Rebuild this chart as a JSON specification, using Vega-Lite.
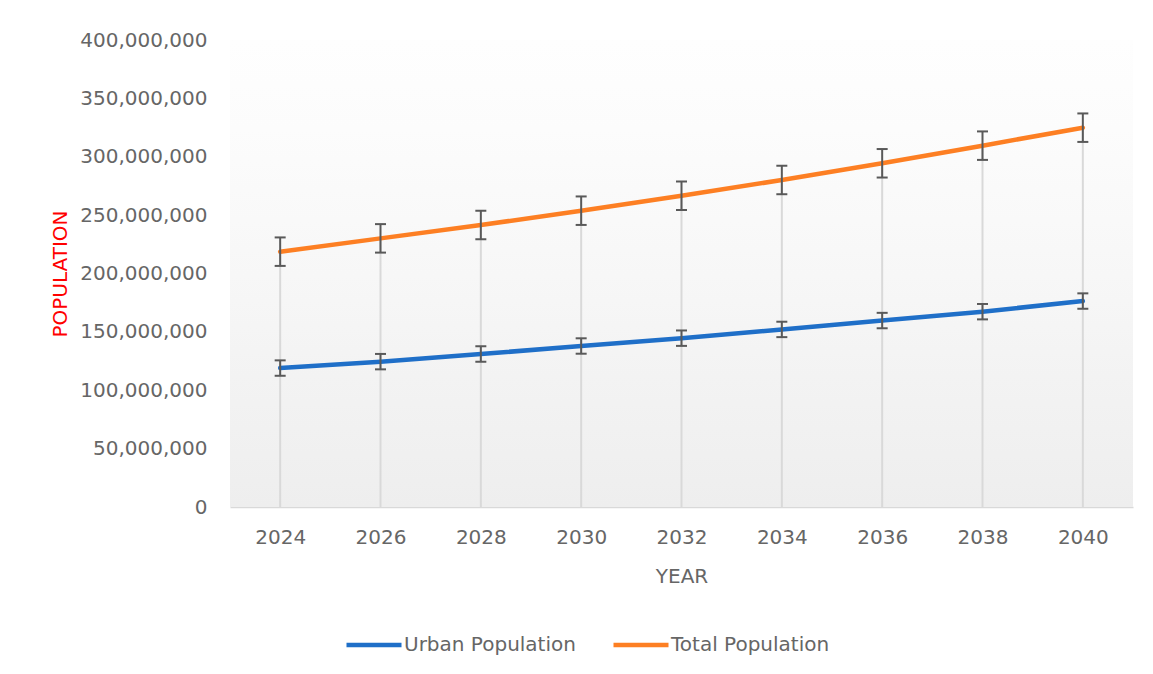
{
  "$schema": "https://vega.github.io/schema/vega-lite/v6.json",
  "width": 903,
  "height": 467,
  "autosize": {"type": "none"},
  "padding": {"left": 230, "top": 40, "right": 20, "bottom": 167},
  "background": "#ffffff",
  "config": {
    "view": {"stroke": null},
    "font": "DejaVu Sans",
    "axis": {"labelFont": "DejaVu Sans", "titleFont": "DejaVu Sans", "labelColor": "#666666", "labelFontSize": 20, "titleFontSize": 20, "titleFontWeight": "normal", "ticks": false, "grid": false},
    "legend": {"labelFont": "DejaVu Sans", "labelFontSize": 20, "labelColor": "#666666", "labelLimit": 400}
  },
  "data": {
    "values": [
      {"year": "2024", "series": "Urban Population", "value": 119000000, "lo": 112400000, "hi": 125600000},
      {"year": "2026", "series": "Urban Population", "value": 124500000, "lo": 117900000, "hi": 131100000},
      {"year": "2028", "series": "Urban Population", "value": 131000000, "lo": 124400000, "hi": 137600000},
      {"year": "2030", "series": "Urban Population", "value": 137900000, "lo": 131300000, "hi": 144500000},
      {"year": "2032", "series": "Urban Population", "value": 144600000, "lo": 138000000, "hi": 151200000},
      {"year": "2034", "series": "Urban Population", "value": 152100000, "lo": 145500000, "hi": 158700000},
      {"year": "2036", "series": "Urban Population", "value": 159700000, "lo": 153100000, "hi": 166300000},
      {"year": "2038", "series": "Urban Population", "value": 167300000, "lo": 160700000, "hi": 173900000},
      {"year": "2040", "series": "Urban Population", "value": 176400000, "lo": 169800000, "hi": 183000000},
      {"year": "2024", "series": "Total Population", "value": 218700000, "lo": 206500000, "hi": 230900000},
      {"year": "2026", "series": "Total Population", "value": 230100000, "lo": 217900000, "hi": 242300000},
      {"year": "2028", "series": "Total Population", "value": 241500000, "lo": 229300000, "hi": 253700000},
      {"year": "2030", "series": "Total Population", "value": 253800000, "lo": 241600000, "hi": 266000000},
      {"year": "2032", "series": "Total Population", "value": 266600000, "lo": 254400000, "hi": 278800000},
      {"year": "2034", "series": "Total Population", "value": 280100000, "lo": 267900000, "hi": 292300000},
      {"year": "2036", "series": "Total Population", "value": 294400000, "lo": 282200000, "hi": 306600000},
      {"year": "2038", "series": "Total Population", "value": 309500000, "lo": 297300000, "hi": 321700000},
      {"year": "2040", "series": "Total Population", "value": 324900000, "lo": 312700000, "hi": 337100000}
    ]
  },
  "layer": [
    {
      "data": {"values": [{}]},
      "mark": {
        "type": "rect",
        "fill": {
          "gradient": "linear", "x1": 0, "y1": 0, "x2": 0, "y2": 1,
          "stops": [
            {"offset": 0, "color": "#fefefe"},
            {"offset": 0.19, "color": "#fcfcfc"},
            {"offset": 0.45, "color": "#f8f8f8"},
            {"offset": 0.72, "color": "#f3f3f3"},
            {"offset": 1, "color": "#eeeeee"}
          ]
        }
      },
      "encoding": {
        "x": {"value": 0},
        "x2": {"value": "width"},
        "y": {"value": 0},
        "y2": {"value": "height"}
      }
    },
    {
      "transform": [{"filter": "datum.series === 'Total Population'"}],
      "mark": {"type": "rule", "color": "#d9d9d9", "strokeWidth": 2},
      "encoding": {
        "x": {
          "field": "year", "type": "ordinal", "scale": {"type": "point", "padding": 0.5},
          "axis": {
            "title": "YEAR", "titleColor": "#666666", "labelAngle": 0, "labelPadding": 20,
            "domain": true, "domainColor": "#d9d9d9", "domainWidth": 1.5,
            "titleY": 69, "titleBaseline": "middle"
          }
        },
        "y": {
          "field": "value", "type": "quantitative", "scale": {"domain": [0, 400000000]},
          "axis": {
            "title": "POPULATION", "titleColor": "#ff0000", "format": ",d", "tickCount": 8,
            "domain": false, "labelPadding": 23,
            "titleX": -170, "titleY": 233.5, "titleAngle": -90, "titleBaseline": "middle", "titleAlign": "center"
          }
        },
        "y2": {"datum": 0}
      }
    },
    {
      "mark": {"type": "line", "strokeWidth": 4.5, "strokeCap": "round"},
      "encoding": {
        "x": {"field": "year", "type": "ordinal", "title": "YEAR"},
        "y": {"field": "value", "type": "quantitative", "title": "POPULATION"},
        "color": {
          "field": "series", "type": "nominal",
          "scale": {"domain": ["Urban Population", "Total Population"], "range": ["#1f6fc8", "#fd7f23"]},
          "legend": {
            "title": null, "orient": "none", "direction": "horizontal",
            "legendX": 114, "legendY": 575,
            "symbolType": "stroke", "symbolSize": 3025, "symbolStrokeWidth": 4.5,
            "labelOffset": 0, "columnPadding": 28
          }
        }
      }
    },
    {
      "mark": {"type": "rule", "color": "#595959", "strokeWidth": 2},
      "encoding": {
        "x": {"field": "year", "type": "ordinal", "title": "YEAR"},
        "y": {"field": "lo", "type": "quantitative", "title": "POPULATION"},
        "y2": {"field": "hi"}
      }
    },
    {
      "mark": {"type": "tick", "color": "#595959", "size": 11, "thickness": 2, "opacity": 1},
      "encoding": {
        "x": {"field": "year", "type": "ordinal", "title": "YEAR"},
        "y": {"field": "lo", "type": "quantitative", "title": "POPULATION"}
      }
    },
    {
      "mark": {"type": "tick", "color": "#595959", "size": 11, "thickness": 2, "opacity": 1},
      "encoding": {
        "x": {"field": "year", "type": "ordinal", "title": "YEAR"},
        "y": {"field": "hi", "type": "quantitative", "title": "POPULATION"}
      }
    }
  ]
}
